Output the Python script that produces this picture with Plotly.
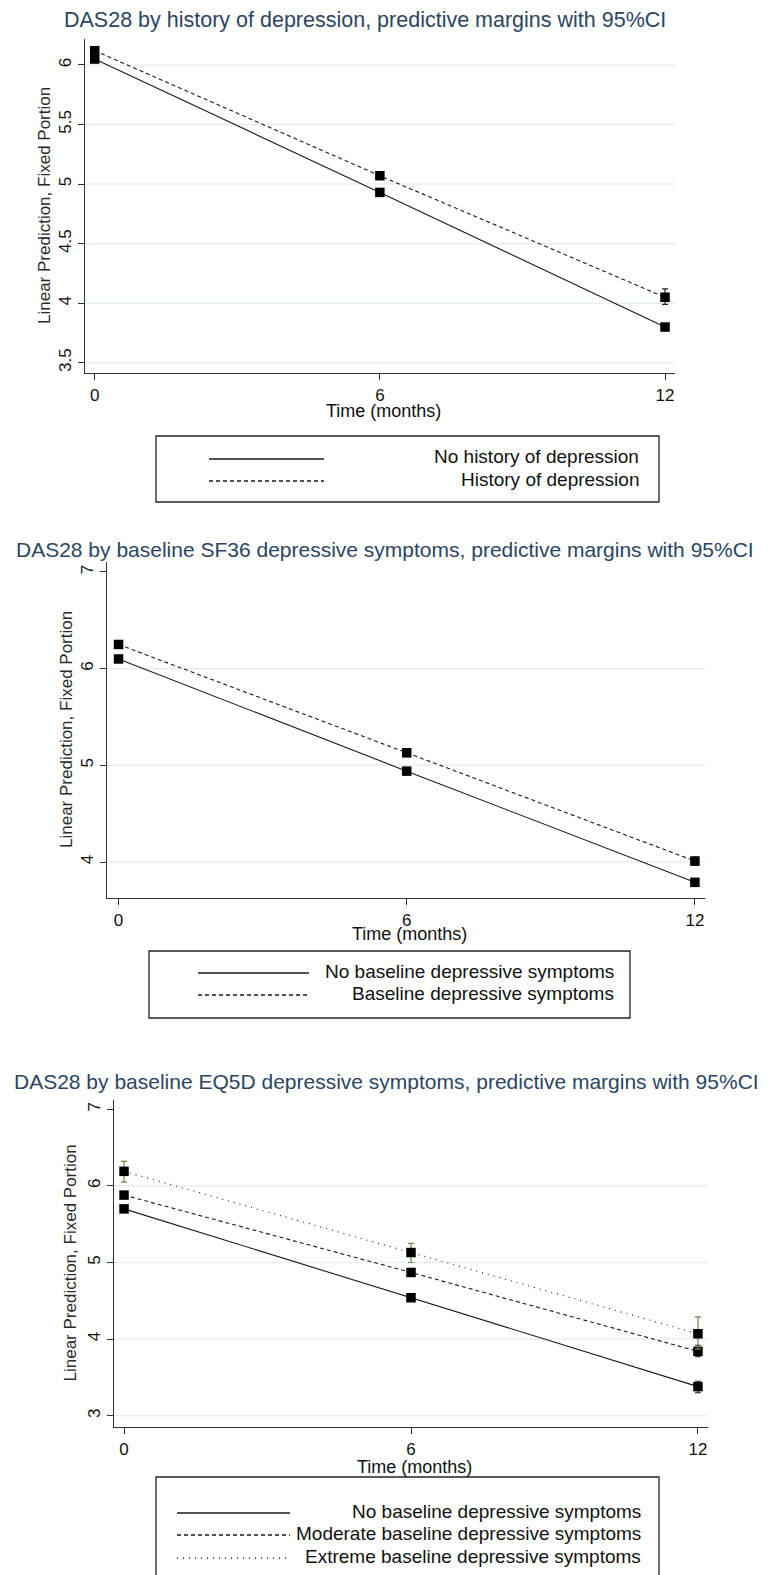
import plotly.graph_objects as go

# page has an 8px body margin; figure is sized/positioned to compensate
PAGE_W, PAGE_H = 768, 1575
OFF = 8
W, H = PAGE_W - OFF, PAGE_H - OFF

months = [0, 6, 12]
x_tick_labels = ["0", "6", "12"]

# ---------- Panel 1: history of depression ----------
p1_title = "DAS28 by history of depression, predictive margins with 95%CI"
p1_names = ["No history of depression", "History of depression"]
p1_no = [6.05, 4.93, 3.80]
p1_no_lo = [6.02, 4.91, 3.78]
p1_no_hi = [6.08, 4.95, 3.82]
p1_hist = [6.12, 5.07, 4.05]
p1_hist_lo = [6.08, 5.04, 3.99]
p1_hist_hi = [6.15, 5.10, 4.12]
p1_yticks = [3.5, 4, 4.5, 5, 5.5, 6]
p1_yticklabels = ["3.5", "4", "4.5", "5", "5.5", "6"]
p1_grid = [3.5, 4, 4.5, 5, 5.5, 6]

# ---------- Panel 2: SF36 ----------
p2_title = "DAS28 by baseline SF36 depressive symptoms, predictive margins with 95%CI"
p2_names = ["No baseline depressive symptoms", "Baseline depressive symptoms"]
p2_no = [6.10, 4.94, 3.79]
p2_no_lo = [6.07, 4.91, 3.76]
p2_no_hi = [6.13, 4.97, 3.82]
p2_base = [6.25, 5.13, 4.01]
p2_base_lo = [6.21, 5.09, 3.97]
p2_base_hi = [6.29, 5.17, 4.05]
p2_yticks = [4, 5, 6, 7]
p2_yticklabels = ["4", "5", "6", "7"]
p2_grid = [4, 5, 6]

# ---------- Panel 3: EQ5D ----------
p3_title = "DAS28 by baseline EQ5D depressive symptoms, predictive margins with 95%CI"
p3_names = ["No baseline depressive symptoms",
            "Moderate baseline depressive symptoms",
            "Extreme baseline depressive symptoms"]
p3_no = [5.70, 4.54, 3.38]
p3_no_lo = [5.67, 4.51, 3.30]
p3_no_hi = [5.73, 4.57, 3.45]
p3_mod = [5.88, 4.87, 3.84]
p3_mod_lo = [5.84, 4.83, 3.77]
p3_mod_hi = [5.92, 4.91, 3.92]
p3_ext = [6.19, 5.13, 4.07]
p3_ext_lo = [6.05, 5.00, 3.87]
p3_ext_hi = [6.32, 5.25, 4.29]
p3_yticks = [3, 4, 5, 6, 7]
p3_yticklabels = ["3", "4", "5", "6", "7"]
p3_grid = [3, 4, 5, 6]

y_title = "Linear Prediction, Fixed Portion"
x_title = "Time (months)"

NARROW = "Liberation Sans Narrow, Arial Narrow, Liberation Sans, Arial, sans-serif"
REG = "Liberation Sans, Arial, sans-serif"
TITLE_COLOR = "#2b4563"
GRID_COLOR = "#e6eff0"
CI_GREEN = "#6a8a3e"


def fx(p):
    return (p - OFF) / W


def fy(p):
    return 1 - (p - OFF) / H


fig = go.Figure()
shapes = []
annotations = []

panels = [
    dict(idx=1, title=p1_title, title_y=20, title_x=365, title_size=21.5,
         left=85, right=675, top=39, bottom=373,
         xr=[-0.204, 12.21], yr=[3.414, 6.218],
         yticks=p1_yticks, yticklabels=p1_yticklabels, grid=p1_grid,
         ytitle_x=44, xlab_y=411,
         series=[(p1_names[0], p1_no, p1_no_lo, p1_no_hi, "solid", "#222222"),
                 (p1_names[1], p1_hist, p1_hist_lo, p1_hist_hi, "4px,3px", "#222222")],
         legend=dict(box=(156, 659, 436, 502), key=(209, 324), text_right=641,
                     rows=[459, 481])),
    dict(idx=2, title=p2_title, title_y=549, title_x=385, title_size=21,
         left=107, right=705, top=562, bottom=898,
         xr=[-0.24, 12.21], yr=[3.628, 7.103],
         yticks=p2_yticks, yticklabels=p2_yticklabels, grid=p2_grid,
         ytitle_x=66, xlab_y=934,
         series=[(p2_names[0], p2_no, p2_no_lo, p2_no_hi, "solid", "#222222"),
                 (p2_names[1], p2_base, p2_base_lo, p2_base_hi, "4px,3px", "#222222")],
         legend=dict(box=(149, 630, 951, 1018), key=(198, 309), text_right=616,
                     rows=[973, 995])),
    dict(idx=3, title=p3_title, title_y=1081, title_x=386, title_size=21,
         left=114, right=708, top=1100, bottom=1427,
         xr=[-0.21, 12.21], yr=[2.853, 7.121],
         yticks=p3_yticks, yticklabels=p3_yticklabels, grid=p3_grid,
         ytitle_x=70, xlab_y=1467,
         series=[(p3_names[0], p3_no, p3_no_lo, p3_no_hi, "solid", "#222222"),
                 (p3_names[1], p3_mod, p3_mod_lo, p3_mod_hi, "4px,3px", "#222222"),
                 (p3_names[2], p3_ext, p3_ext_lo, p3_ext_hi, "1px,5px", CI_GREEN)],
         legend=dict(box=(156, 659, 1477, 1600), key=(177, 290), text_right=643,
                     rows=[1513, 1535, 1558])),
]

for p in panels:
    i = p["idx"]
    xa = "x" if i == 1 else f"x{i}"
    ya = "y" if i == 1 else f"y{i}"
    for name, vals, lo, hi, dash, cicol in p["series"]:
        fig.add_trace(go.Scatter(
            x=months, y=vals, name=name, mode="lines+markers",
            line=dict(color="#1a1a1a", width=1.1, dash=dash),
            marker=dict(symbol="square", size=9.5, color="#000000"),
            error_y=dict(type="data", symmetric=False,
                         array=[h - v for h, v in zip(hi, vals)],
                         arrayminus=[v - l for v, l in zip(vals, lo)],
                         color=cicol, thickness=1.2, width=3),
            xaxis=xa, yaxis=ya, showlegend=False, hoverinfo="skip"))
    xkey = "xaxis" if i == 1 else f"xaxis{i}"
    ykey = "yaxis" if i == 1 else f"yaxis{i}"
    fig.layout[xkey] = dict(
        domain=[fx(p["left"]), fx(p["right"])], anchor=ya, range=p["xr"],
        tickvals=months, ticktext=x_tick_labels, ticks="outside", ticklen=6,
        tickcolor="#333", tickwidth=1, showline=True, linecolor="#333", linewidth=1.3,
        showgrid=False, zeroline=False,
        tickfont=dict(family=NARROW, size=17, color="#111"))
    fig.layout[ykey] = dict(
        domain=[fy(p["bottom"]), fy(p["top"])], anchor=xa, range=p["yr"],
        tickvals=p["yticks"], ticktext=p["yticklabels"], ticks="outside", ticklen=6,
        tickangle=-90, tickcolor="#333", tickwidth=1, showline=True, linecolor="#333",
        linewidth=1.3, showgrid=False, zeroline=False,
        tickfont=dict(family=REG, size=17, color="#111"))
    for g in p["grid"]:
        shapes.append(dict(type="line", xref=f"{xa} domain", yref=ya, x0=0, x1=1,
                           y0=g, y1=g, line=dict(color=GRID_COLOR, width=1.5),
                           layer="below"))
    # title
    annotations.append(dict(text=p["title"], x=fx(p["title_x"]), y=fy(p["title_y"]),
                            xref="paper", yref="paper", xanchor="center", yanchor="middle",
                            showarrow=False,
                            font=dict(family=NARROW, size=p["title_size"], color=TITLE_COLOR)))
    # y title
    annotations.append(dict(text=y_title, x=fx(p["ytitle_x"]),
                            y=fy((p["top"] + p["bottom"]) / 2),
                            xref="paper", yref="paper", xanchor="center", yanchor="middle",
                            textangle=-90, showarrow=False,
                            font=dict(family=REG, size=17, color="#2a2a2a")))
    # x title
    annotations.append(dict(text=x_title, x=fx((p["left"] + p["right"]) / 2 + 3),
                            y=fy(p["xlab_y"]), xref="paper", yref="paper",
                            xanchor="center", yanchor="middle", showarrow=False,
                            font=dict(family=NARROW, size=18, color="#111")))
    # legend
    lg = p["legend"]
    bx0, bx1, by0, by1 = lg["box"]
    shapes.append(dict(type="rect", xref="paper", yref="paper",
                       x0=fx(bx0), x1=fx(bx1), y0=fy(by1), y1=fy(by0),
                       line=dict(color="#222", width=1.3), fillcolor="rgba(0,0,0,0)"))
    for (name, vals, lo, hi, dash, cicol), ry in zip(p["series"], lg["rows"]):
        shapes.append(dict(type="line", xref="paper", yref="paper",
                           x0=fx(lg["key"][0]), x1=fx(lg["key"][1]),
                           y0=fy(ry), y1=fy(ry),
                           line=dict(color="#1a1a1a", width=1.3, dash=dash)))
        annotations.append(dict(text=name, x=fx(lg["text_right"]), y=fy(ry - 2),
                                xref="paper", yref="paper", xanchor="right",
                                yanchor="middle", showarrow=False,
                                font=dict(family=NARROW, size=19, color="#111")))

fig.update_layout(
    width=W, height=H, margin=dict(l=0, r=0, t=0, b=0),
    paper_bgcolor="white", plot_bgcolor="white",
    shapes=shapes, annotations=annotations, showlegend=False)

fig.write_html("out.html")
